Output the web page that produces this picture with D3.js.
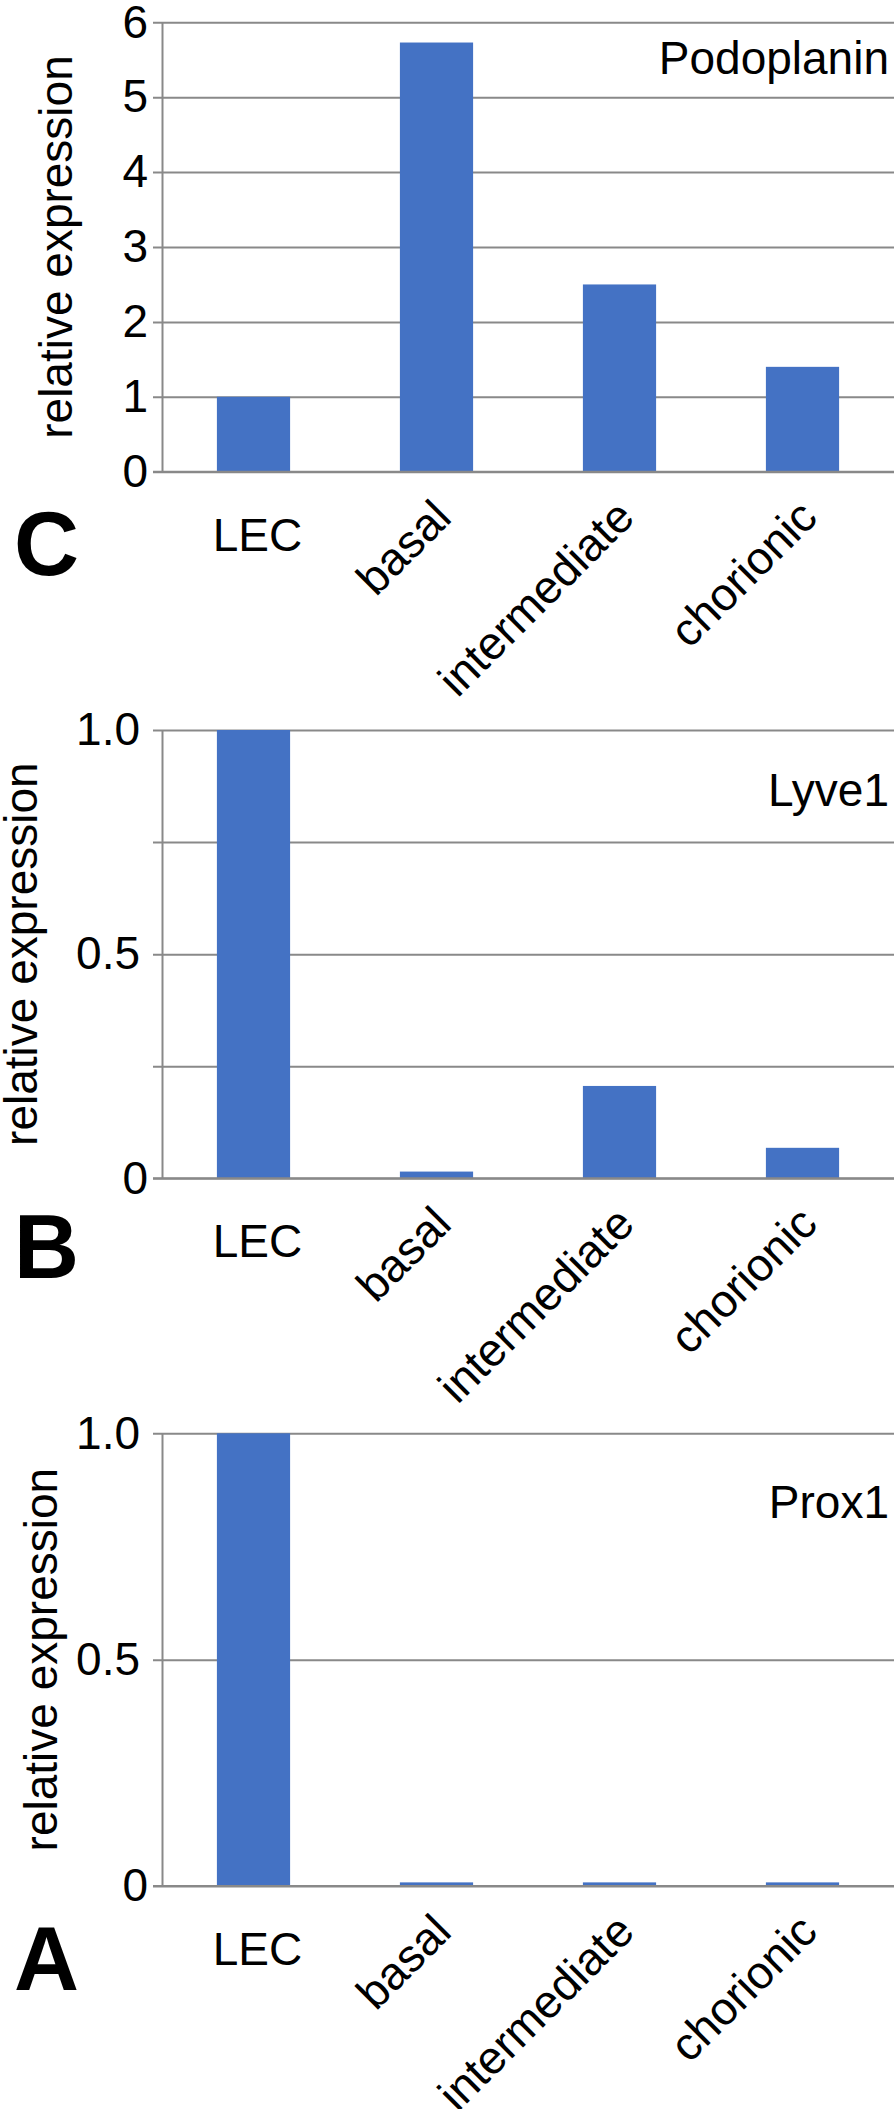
<!DOCTYPE html>
<html>
<head>
<meta charset="utf-8">
<script src="https://cdn.jsdelivr.net/npm/d3@7"></script>
<style>
  html, body { margin: 0; padding: 0; background: #fff; }
  svg { display: block; font-family: 'Liberation Sans', Arial, sans-serif; }
</style>
</head>
<body>
<div id="chart"></div>
<script>
// data
var categories = ['LEC', 'basal', 'intermediate', 'chorionic'];
var podoplanin = [1.0, 5.73, 2.5, 1.4];
var lyve1 = [1.0, 0.015, 0.206, 0.068];
var prox1 = [1.0, 0.008, 0.008, 0.008];
var podoplaninTicks = [0, 1, 2, 3, 4, 5, 6];
var lyve1Ticks = [0, 0.25, 0.5, 0.75, 1.0];
var lyve1Labels = [0, 0.5, 1.0];
var prox1Ticks = [0, 0.5, 1.0];

const WIDTH = 894;
const HEIGHT = 2109;
const AXIS_X = 162;
const GRID = '#898989';
const BAR = '#4472C4';

// layout of the three stacked panels
var panels = [
  { letter: 'C', gene: 'Podoplanin', values: podoplanin, ticks: podoplaninTicks, labels: podoplaninTicks,
    max: 6, top: 22.3, zero: 471.7, titleX: 72, geneY: 74, letterY: 575 },
  { letter: 'B', gene: 'Lyve1', values: lyve1, ticks: lyve1Ticks, labels: lyve1Labels,
    max: 1, top: 730, zero: 1178.3, titleX: 37, geneY: 806, letterY: 1278 },
  { letter: 'A', gene: 'Prox1', values: prox1, ticks: prox1Ticks, labels: prox1Ticks,
    max: 1, top: 1433.3, zero: 1886, titleX: 57, geneY: 1518, letterY: 1990 }
];

var svg = d3.select('#chart').append('svg')
  .attr('width', WIDTH)
  .attr('height', HEIGHT);

var x = d3.scaleBand()
  .domain(categories)
  .range([AXIS_X, WIDTH])
  .paddingInner(0.6)
  .paddingOuter(0.3);

panels.forEach(drawPanel);

function drawPanel (p) {
  var y = d3.scaleLinear().domain([0, p.max]).range([p.zero, p.top]);
  var g = svg.append('g');

  var yAxis = d3.axisLeft(y)
    .tickValues(p.ticks)
    .tickSizeInner(9)
    .tickSizeOuter(0)
    .tickPadding(5)
    .tickFormat(function (d) {
      if (p.labels.indexOf(d) < 0) return '';
      if (p.max > 1 || d === 0) return d3.format('d')(d);
      return d3.format('.1f')(d);
    });

  var ax = g.append('g')
    .attr('transform', 'translate(' + AXIS_X + ',0)')
    .call(yAxis);

  ax.selectAll('.tick line')
    .attr('x1', WIDTH - AXIS_X)
    .attr('x2', -9)
    .attr('stroke', GRID)
    .attr('stroke-width', 2);
  ax.select('.domain')
    .attr('stroke', GRID)
    .attr('stroke-width', 2);
  ax.selectAll('.tick text')
    .attr('font-family', "'Liberation Sans', Arial, sans-serif")
    .attr('font-size', 46)
    .attr('fill', '#000')
    .attr('dx', function () {
      // decimal labels sit a little further from the axis
      return this.textContent.indexOf('.') >= 0 ? -8 : 0;
    });
  ax.attr('font-family', null).attr('font-size', null);

  // bars
  g.selectAll('.bar')
    .data(p.values)
    .enter()
    .append('rect')
    .attr('class', 'bar')
    .attr('x', function (d, i) { return x(categories[i]); })
    .attr('width', x.bandwidth())
    .attr('y', function (d) { return y(d); })
    .attr('height', function (d) { return y(0) - y(d); })
    .attr('fill', BAR);

  // redraw the zero line on top of the bars
  g.append('line')
    .attr('x1', AXIS_X - 9)
    .attr('x2', WIDTH)
    .attr('y1', y(0))
    .attr('y2', y(0))
    .attr('stroke', GRID)
    .attr('stroke-width', 2);

  // category labels: LEC flat, others at -45deg
  categories.forEach(function (c, i) {
    var cx = x(c) + x.bandwidth() / 2;
    if (i === 0) {
      g.append('text')
        .attr('x', cx + 4)
        .attr('y', y(0) + 79)
        .attr('text-anchor', 'middle')
        .attr('font-size', 46)
        .text(c);
    } else {
      g.append('text')
        .attr('transform', 'translate(' + (cx + 17) + ',' + (y(0) + 48) + ') rotate(-45)')
        .attr('text-anchor', 'end')
        .attr('font-size', 46)
        .text(c);
    }
  });

  // axis title
  g.append('text')
    .attr('transform', 'translate(' + p.titleX + ',' + ((p.top + p.zero) / 2) + ') rotate(-90)')
    .attr('text-anchor', 'middle')
    .attr('font-size', 46)
    .text('relative expression');

  // gene name
  g.append('text')
    .attr('x', 889)
    .attr('y', p.geneY)
    .attr('text-anchor', 'end')
    .attr('font-size', 46)
    .text(p.gene);

  // panel letter
  g.append('text')
    .attr('x', 14)
    .attr('y', p.letterY)
    .attr('font-size', 90)
    .attr('font-weight', 'bold')
    .text(p.letter);
}
</script>
</body>
</html>
